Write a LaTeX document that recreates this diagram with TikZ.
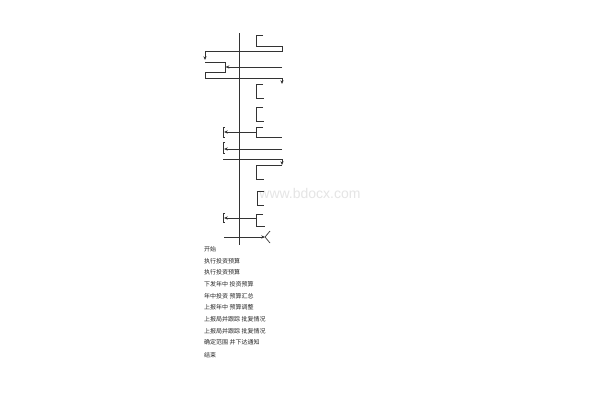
\documentclass[tikz,border=0pt]{standalone}
\usepackage{fontspec}
\newfontfamily\cjk{Noto Sans CJK SC}
\newfontfamily\wm{Liberation Sans}
\usetikzlibrary{arrows.meta}
\begin{document}
\begin{tikzpicture}[x=1pt,y=-1pt,
  ln/.style={draw=black!80,line width=0.7pt},
  arr/.style={ln,-{Stealth[length=3.8pt,width=3.2pt]}},
  lbl/.style={font=\cjk\fontsize{6}{7}\selectfont,anchor=west,inner sep=0pt,text=black!85}]
\useasboundingbox (0,0) rectangle (600,400);
\fill[white] (0,0) rectangle (600,400);
% watermark
\node[text=black!10,font=\wm\fontsize{14}{14}\selectfont] (wm) at (310,193) {www.bdocx.com};
% trunk
\coordinate (t1) at (239,33);
\coordinate (t2) at (239,245);
\draw[ln] (t1) -- (t2);
% top bracket and loop
\draw[ln] (263,35) -- (256,35) -- (256,46) -- (282,46) -- (282,51) -- (205,51);
\draw[arr] (205,51) -- (205,60);
\draw[ln] (205,62) -- (225,62) -- (225,72) -- (205,72) -- (205,78) -- (282,78);
\draw[arr] (282,67) -- (225.5,67);
\draw[arr] (282,78) -- (282,84);
% brackets
\draw[ln] (263,84) -- (256,84) -- (256,98) -- (264,98);
\draw[ln] (263,107) -- (256,107) -- (256,121) -- (264,121);
\draw[ln] (263,127) -- (256,127) -- (256,137) -- (282,137);
\draw[arr] (256,132) -- (224,132);
\draw[ln] (225,127) -- (223,127) -- (223,137) -- (225,137);
\draw[arr] (282,149) -- (224,149);
\draw[ln] (225,142) -- (223,142) -- (223,153) -- (225,153);
\draw[ln] (223,159) -- (282,159);
\draw[arr] (282,159) -- (282,165);
\draw[ln] (282,165) -- (256,165) -- (256,179) -- (264,179);
\draw[ln] (264,191) -- (257,191) -- (257,205) -- (264,205);
\draw[ln] (263,214) -- (256,214) -- (256,226) -- (265,226);
\draw[arr] (256,218) -- (224,218);
\draw[ln] (225,213) -- (223,213) -- (223,222) -- (225,222);
\draw[arr] (224,237) -- (265,237);
\draw[ln] (270,231) -- (265,237) -- (270,243);
% text list
\node[lbl] (l0) at (204,249) {开始};
\node[lbl] (l1) at (204,261) {执行投资预算};
\node[lbl] (l2) at (204,272.5) {执行投资预算};
\node[lbl] (l3) at (204,284) {下发年中 投资预算};
\node[lbl] (l4) at (204,296) {年中投资 预算汇总};
\node[lbl] (l5) at (204,307.5) {上报年中 预算调整};
\node[lbl] (l6) at (204,319.5) {上报局并跟踪 批复情况};
\node[lbl] (l7) at (204,331) {上报局并跟踪 批复情况};
\node[lbl] (l8) at (204,342.5) {确定范围 并下达通知};
\node[lbl] (l9) at (204,355) {结束};
\end{tikzpicture}
\end{document}
